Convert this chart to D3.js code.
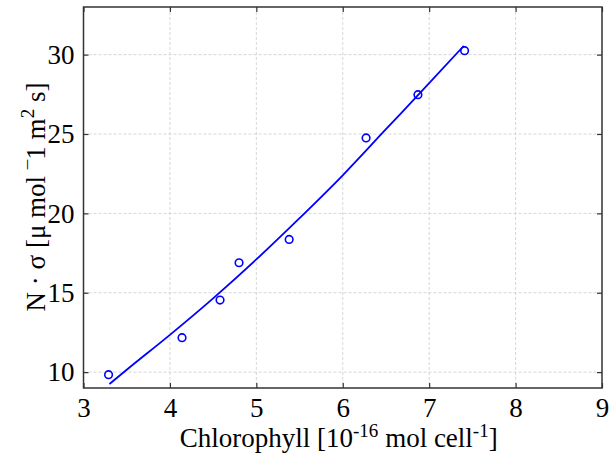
<!DOCTYPE html>
<html>
<head>
<meta charset="utf-8">
<script src="https://cdn.jsdelivr.net/npm/d3@7"></script>
<style>
  body { margin: 0; background: #fff; }
  text { font-family: "Liberation Serif", "DejaVu Serif", serif; fill: #000; }
</style>
</head>
<body>
<svg id="chart" width="612" height="467"></svg>
<script>
// measured chlorophyll vs N*sigma
const chlorophyll = [3.29, 4.14, 4.58, 4.80, 5.38, 6.27, 6.87, 7.41];
const nSigma = [9.84, 12.17, 14.54, 16.89, 18.36, 24.75, 27.48, 30.25];

// fitted curve
const fitX = [3.30, 3.50, 4.00, 4.50, 5.00, 5.50, 6.00, 6.50, 7.00, 7.40];
const fitY = [9.25, 10.15, 12.35, 14.65, 17.10, 19.70, 22.40, 25.30, 28.20, 30.55];

const xTicks = [3, 4, 5, 6, 7, 8, 9];
const yTicks = [10, 15, 20, 25, 30];

const svg = d3.select('#chart');
const m = { left: 83.5, right: 602, top: 7, bottom: 388 };

const x = d3.scaleLinear().domain([3, 9]).range([m.left, m.right]);
const y = d3.scaleLinear().domain([9, 33]).range([m.bottom, m.top]);

// grid
const grid = svg.append('g')
  .attr('stroke', '#cccccc')
  .attr('stroke-width', 0.8)
  .attr('stroke-dasharray', '3,2');
grid.selectAll('.gx').data(xTicks.slice(1, -1)).join('line')
  .attr('x1', d => x(d)).attr('x2', d => x(d))
  .attr('y1', m.top).attr('y2', m.bottom);
grid.selectAll('.gy').data(yTicks).join('line')
  .attr('x1', m.left).attr('x2', m.right)
  .attr('y1', d => y(d)).attr('y2', d => y(d));

// axes with inward ticks, mirrored on top/right
const tickLen = 5;
const axisColor = '#333';
const fmt = d3.format('d');
const styleAxis = g => {
  g.select('.domain').remove();
  g.selectAll('.tick line').attr('stroke', axisColor).attr('stroke-width', 1.2);
  g.selectAll('text').style('font-family', '"Liberation Serif", serif').style('font-size', '27px').attr('fill', '#000');
};

svg.append('g')
  .attr('transform', `translate(0,${m.bottom})`)
  .call(d3.axisBottom(x).tickValues(xTicks).tickFormat(fmt).tickSizeInner(-tickLen).tickSizeOuter(0).tickPadding(10))
  .call(styleAxis);
svg.append('g')
  .attr('transform', `translate(0,${m.top})`)
  .call(d3.axisTop(x).tickValues(xTicks).tickFormat('').tickSizeInner(-tickLen).tickSizeOuter(0))
  .call(styleAxis);
svg.append('g')
  .attr('transform', `translate(${m.left},0)`)
  .call(d3.axisLeft(y).tickValues(yTicks).tickFormat(fmt).tickSizeInner(-tickLen).tickSizeOuter(0).tickPadding(9))
  .call(styleAxis);
svg.append('g')
  .attr('transform', `translate(${m.right},0)`)
  .call(d3.axisRight(y).tickValues(yTicks).tickFormat('').tickSizeInner(-tickLen).tickSizeOuter(0))
  .call(styleAxis);

// frame
svg.append('rect')
  .attr('x', m.left).attr('y', m.top)
  .attr('width', m.right - m.left).attr('height', m.bottom - m.top)
  .attr('fill', 'none').attr('stroke', axisColor).attr('stroke-width', 1.5);

// fitted line
const line = d3.line()
  .x(d => x(d[0]))
  .y(d => y(d[1]))
  .curve(d3.curveMonotoneX);
svg.append('path')
  .datum(d3.zip(fitX, fitY))
  .attr('d', line)
  .attr('fill', 'none')
  .attr('stroke', '#0000ff')
  .attr('stroke-width', 1.8);

// data points
svg.append('g').selectAll('circle')
  .data(d3.zip(chlorophyll, nSigma))
  .join('circle')
  .attr('cx', d => x(d[0]))
  .attr('cy', d => y(d[1]))
  .attr('r', 3.8)
  .attr('fill', 'none')
  .attr('stroke', '#0000ff')
  .attr('stroke-width', 1.6);

// axis labels
const xl = svg.append('text')
  .attr('x', (m.left + m.right) / 2 - 4)
  .attr('y', 447)
  .attr('text-anchor', 'middle')
  .style('font-size', '27px');
xl.append('tspan').text('Chlorophyll [10');
xl.append('tspan').attr('dy', -10).style('font-size', '19px').text('-16');
xl.append('tspan').attr('dy', 10).text(' mol cell');
xl.append('tspan').attr('dy', -10).style('font-size', '19px').text('-1');
xl.append('tspan').attr('dy', 10).text(']');

const yl = svg.append('text')
  .attr('transform', 'translate(45,197) rotate(-90)')
  .attr('text-anchor', 'middle')
  .style('font-size', '27px');
yl.append('tspan').text('N \u00b7 \u03c3 [\u03bc mol ');
yl.append('tspan').attr('dy', -4).style('font-size', '19px').text('\u00af');
yl.append('tspan').attr('dy', 4).text('1 m');
yl.append('tspan').attr('dy', -11).style('font-size', '19px').text('2');
yl.append('tspan').attr('dy', 11).text(' s]');
</script>
</body>
</html>
